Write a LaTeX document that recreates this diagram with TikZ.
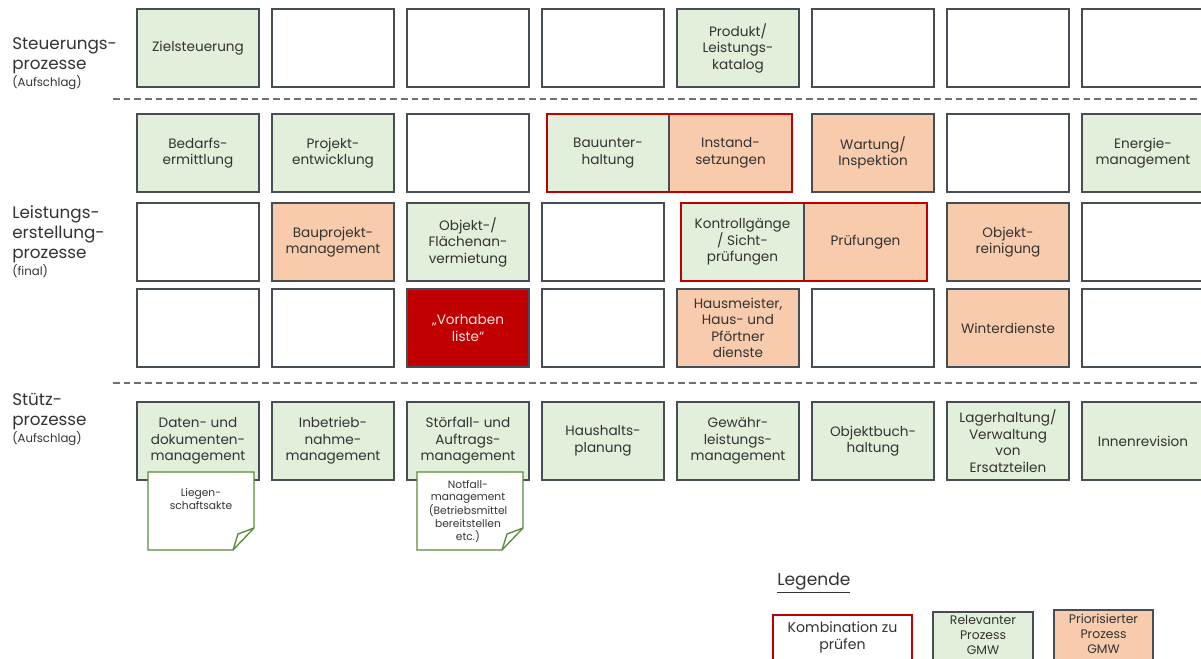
\documentclass[tikz,border=0pt]{standalone}
\usepackage{fontspec}
\setmainfont{Poppins}
\definecolor{bord}{HTML}{474D55}
\definecolor{grn}{HTML}{E2EFDA}
\definecolor{org}{HTML}{F8CBAD}
\definecolor{dred}{HTML}{C00000}
\definecolor{notegr}{HTML}{5A8A3C}
\definecolor{txt}{HTML}{333333}
\newcommand{\mysubfont}{\fontsize{8.8}{10}\selectfont}
\tikzset{
  pbox/.style={draw=bord, line width=1.25pt, minimum width=91.5pt, minimum height=58.5pt,
    anchor=north west, align=center, inner sep=0pt, outer sep=0pt, text=txt,
    font=\fontsize{10.2}{12.4}\selectfont},
  gbox/.style={pbox, fill=grn},
  obox/.style={pbox, fill=org},
  rbox/.style={pbox, fill=dred, text=red!10},
  ebox/.style={pbox, fill=white},
  redframe/.style={draw=dred, line width=1.5pt},
  sep/.style={draw=bord!80, line width=1pt, dash pattern=on 5pt off 3pt},
  lbl/.style={anchor=north west, align=left, inner sep=0pt, text=txt,
    font=\fontsize{12.6}{15}\selectfont},
  notebox/.style={draw=notegr, line width=1pt, fill=white, line join=miter},
  notetxt/.style={align=center, inner sep=0pt, text=txt, font=\fontsize{8}{9.5}\selectfont},
  legtxt/.style={inner sep=0pt, text=txt, font=\fontsize{12.8}{14}\selectfont},
  legbox/.style={draw=bord, line width=1.25pt, anchor=north west, inner sep=0pt, outer sep=0pt, minimum height=45pt},
  legline/.style={anchor=north, align=center, inner sep=0pt, text=txt}
}
\begin{document}
\begin{tikzpicture}[x=0.75pt,y=-0.75pt]
\useasboundingbox (0,0) rectangle (1201,659);
\begin{scope}
\clip (0,0) rectangle (1201,659);
% left labels
\node[lbl] (l1) at (12,37) {Steuerungs-\\prozesse\\[-2pt]{\mysubfont(Aufschlag)}};
\node[lbl] (l2) at (12,205) {Leistungs-\\erstellung-\\prozesse\\[-2pt]{\mysubfont(final)}};
\node[lbl] (l3) at (12,393) {Stütz-\\prozesse\\[-2pt]{\mysubfont(Aufschlag)}};
% separators
\coordinate (s1a) at (113,99); \coordinate (s1b) at (1201,99);
\coordinate (s2a) at (113,383); \coordinate (s2b) at (1201,383);
\draw[sep] (s1a) -- (s1b);
\draw[sep] (s2a) -- (s2b);
% row 1
\node[gbox] (r1c1) at (137,9) {Zielsteuerung};
\node[ebox] (r1c2) at (272,9) {};
\node[ebox] (r1c3) at (407,9) {};
\node[ebox] (r1c4) at (542,9) {};
\node[gbox] (r1c5) at (677,9) {Produkt/\\Leistungs-\\katalog};
\node[ebox] (r1c6) at (812,9) {};
\node[ebox] (r1c7) at (947,9) {};
\node[ebox] (r1c8) at (1082,9) {};
% row 2
\node[gbox] (r2c1) at (137,114) {Bedarfs-\\ermittlung};
\node[gbox] (r2c2) at (272,114) {Projekt-\\entwicklung};
\node[ebox] (r2c3) at (407,114) {};
\node[gbox] (bau) at (547,114) {Bauunter-\\haltung};
\node[obox, minimum width=92.25pt] (inst) at (669,114) {Instand-\\setzungen};
\draw[redframe] (bau.north west) rectangle (inst.south east);
\node[obox] (r2c6) at (812,114) {Wartung/\\Inspektion};
\node[ebox] (r2c7) at (947,114) {};
\node[gbox] (r2c8) at (1082,114) {Energie-\\management};
% row 3
\node[ebox] (r3c1) at (137,203) {};
\node[obox] (r3c2) at (272,203) {Bauprojekt-\\management};
\node[gbox] (r3c3) at (407,203) {Objekt-/\\Flächenan-\\vermietung};
\node[ebox] (r3c4) at (542,203) {};
\node[gbox, minimum width=92.25pt] (kon) at (681,203) {Kontrollgänge\\/ Sicht-\\prüfungen};
\node[obox, minimum width=92.25pt] (pru) at (804,203) {Prüfungen};
\draw[redframe] (kon.north west) rectangle (pru.south east);
\node[obox] (r3c7) at (947,203) {Objekt-\\reinigung};
\node[ebox] (r3c8) at (1082,203) {};
% row 4
\node[ebox] (r4c1) at (137,289) {};
\node[ebox] (r4c2) at (272,289) {};
\node[rbox] (r4c3) at (407,289) {„Vorhaben\\liste“};
\node[ebox] (r4c4) at (542,289) {};
\node[obox] (r4c5) at (677,289) {Hausmeister,\\Haus- und\\Pförtner\\dienste};
\node[ebox] (r4c6) at (812,289) {};
\node[obox] (r4c7) at (947,289) {Winterdienste};
\node[ebox] (r4c8) at (1082,289) {};
% row 5
\node[gbox] (r5c1) at (137,402) {Daten- und\\dokumenten-\\management};
\node[gbox] (r5c2) at (272,402) {Inbetrieb-\\nahme-\\management};
\node[gbox] (r5c3) at (407,402) {Störfall- und\\Auftrags-\\management};
\node[gbox] (r5c4) at (542,402) {Haushalts-\\planung};
\node[gbox] (r5c5) at (677,402) {Gewähr-\\leistungs-\\management};
\node[gbox] (r5c6) at (812,402) {Objektbuch-\\haltung};
\node[gbox] (r5c7) at (947,402) {Lagerhaltung/\\Verwaltung\\von\\Ersatzteilen};
\node[gbox] (r5c8) at (1082,402) {Innenrevision};
% notes
\draw[notebox] (148,472) -- (254,472) -- (254,528) -- (233,550) -- (148,550) -- cycle;
\draw[notegr, line width=1pt] (254,528) -- (238,534) -- (233,550);
\node[notetxt] (n1) at (201,499) {Liegen-\\schaftsakte};
\draw[notebox] (417,472) -- (523,472) -- (523,528) -- (502,550) -- (417,550) -- cycle;
\draw[notegr, line width=1pt] (523,528) -- (507,534) -- (502,550);
\node[notetxt] (n2) at (468,511) {Notfall-\\management\\(Betriebsmittel\\bereitstellen\\etc.)};
% legend
\node[legtxt, anchor=west] (leg) at (777,583) {\underline{Legende}};
\node[legbox, draw=dred, line width=1.5pt, fill=white, minimum width=104.25pt] (lg1) at (773,615) {};
\node[legbox, fill=grn, minimum width=75pt] (lg2) at (933,612) {};
\node[legbox, fill=org, minimum width=74.25pt] (lg3) at (1054,610) {};
\node[legline, font=\fontsize{10.6}{12.75}\selectfont] (lg1t) at (lg1.north |- 0,621) {Kombination zu\\prüfen};
\node[legline, font=\fontsize{9.3}{11.25}\selectfont] (lg2t) at (lg2.north |- 0,615) {Relevanter\\Prozess\\GMW};
\node[legline, font=\fontsize{9.3}{11.25}\selectfont] (lg3t) at (lg3.north |- 0,614) {Priorisierter\\Prozess\\GMW};
\end{scope}
\end{tikzpicture}
\end{document}
